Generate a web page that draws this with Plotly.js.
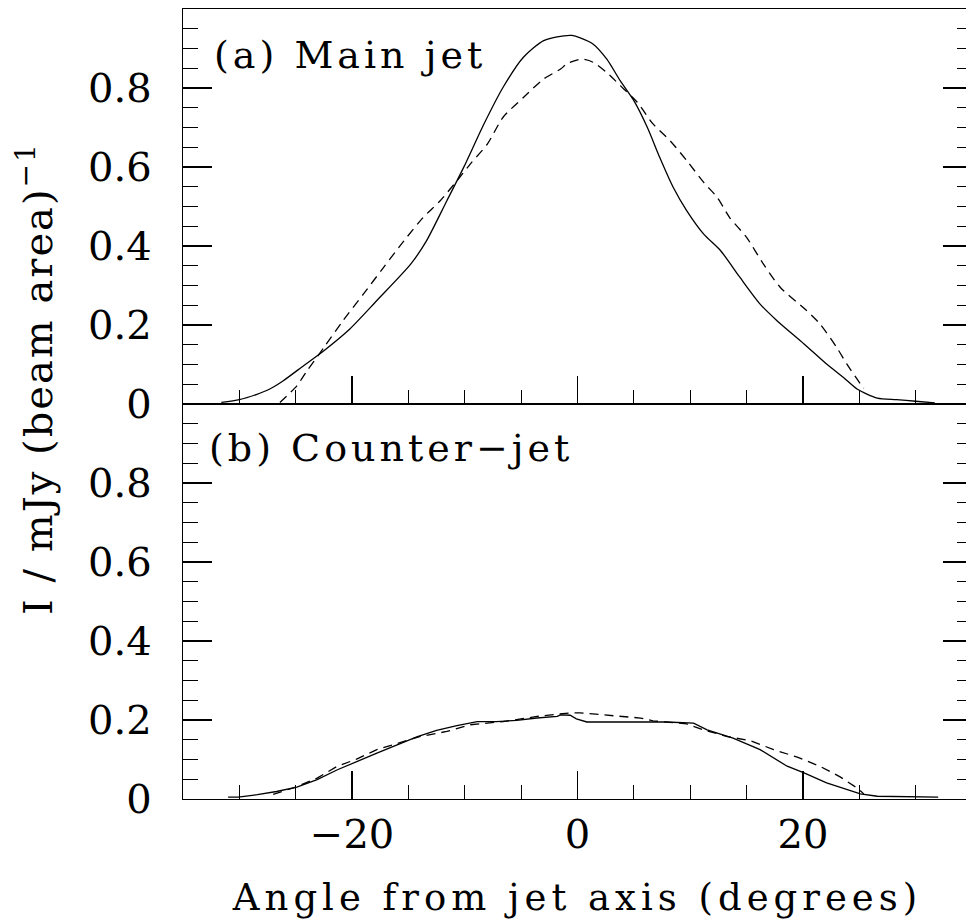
<!DOCTYPE html>
<html>
<head>
<meta charset="utf-8">
<script src="https://cdn.plot.ly/plotly-3.0.1.min.js"></script>
<style>
  html, body { margin: 0; padding: 0; overflow: hidden; background: #fff; }
  #chart { width: 980px; height: 922px; }
  .xtitle { letter-spacing: 5px; }
  .annotation[data-index="0"] text, .annotation[data-index="1"] text { letter-spacing: 4px; }
  .annotation[data-index="2"] text { letter-spacing: 2px; }
</style>
</head>
<body>
<div id="chart"></div>
<script>
// (a) Main jet — solid curve
const mainSolidX = [-31.6,-30.0,-28.5,-27.3,-26.1,-24.3,-22.5,-20.2,-17.8,-14.8,-13.4,-11.6,-10.1,-8.3,-6.6,-4.8,-3.0,-1.2,-0.5,0.24,1.4,2.6,3.8,5.0,6.2,7.3,8.5,9.7,11.2,12.7,14.4,16.2,17.7,20.1,22.1,23.6,24.8,26.6,28.3,30.0,31.7];
const mainSolidY = [0.004,0.011,0.024,0.038,0.059,0.097,0.135,0.19,0.262,0.354,0.413,0.514,0.599,0.709,0.802,0.878,0.92,0.932,0.933,0.927,0.911,0.873,0.818,0.768,0.700,0.624,0.548,0.489,0.430,0.388,0.321,0.253,0.211,0.152,0.101,0.067,0.038,0.015,0.011,0.007,0.003];
// (a) Main jet — dashed curve
const mainDashX = [-26.4,-24.9,-24.0,-22.5,-20.8,-19.0,-17.2,-15.4,-13.7,-12.2,-10.7,-9.5,-8.0,-6.6,-4.8,-3.0,-1.5,-0.9,0.39,1.4,2.6,3.8,5.3,6.7,8.2,9.7,11.2,12.4,13.5,15.0,16.5,18.0,20.2,21.5,23.0,23.9,25.1,25.4];
const mainDashY = [0.004,0.046,0.084,0.143,0.211,0.278,0.346,0.413,0.472,0.514,0.565,0.608,0.658,0.726,0.776,0.823,0.848,0.862,0.873,0.865,0.839,0.806,0.764,0.709,0.667,0.616,0.561,0.523,0.472,0.422,0.354,0.295,0.240,0.203,0.143,0.101,0.051,0.040];
// (b) Counter-jet — solid curve
const counterSolidX = [-31.0,-30.1,-28.4,-26.7,-24.9,-23.1,-21.3,-19.6,-17.8,-16.0,-14.2,-12.5,-10.7,-8.9,-7.2,-5.4,-3.6,-1.8,-1.5,-0.65,-0.1,0.83,5.6,7.9,10.3,11.5,13.8,16.2,18.6,20.1,22.1,23.9,25.1,26.6,32.0];
const counterSolidY = [0.005,0.005,0.011,0.019,0.030,0.049,0.074,0.095,0.116,0.137,0.158,0.174,0.186,0.196,0.196,0.199,0.205,0.209,0.213,0.212,0.203,0.195,0.195,0.195,0.192,0.175,0.154,0.125,0.083,0.066,0.041,0.024,0.013,0.007,0.005];
// (b) Counter-jet — dashed curve
const counterDashX = [-27.0,-25.0,-23.1,-21.3,-19.6,-17.8,-14.0,-11.6,-9.5,-6.6,-3.6,-0.65,0.2,2.5,5.6,6.7,9.7,11.2,13.3,15.3,17.4,19.5,21.5,23.3,24.8,25.4];
const counterDashY = [0.012,0.030,0.053,0.083,0.101,0.125,0.158,0.171,0.188,0.196,0.209,0.218,0.218,0.212,0.205,0.198,0.19,0.175,0.158,0.148,0.125,0.106,0.083,0.056,0.028,0.013];

// Tick labels
const xTickVals = [-20, 0, 20];
const xTickText = ['\u221220', '0', '20'];
const yTickVals = [0, 0.2, 0.4, 0.6, 0.8];
const yTickText = ['0', '0.2', '0.4', '0.6', '0.8'];

const panelLabels = ['(a) Main jet', '(b) Counter\u2212jet'];
const xTitle = 'Angle from jet axis (degrees)';
const yTitle = 'I / mJy (beam area)<sup>\u22121</sup>';

const FONT = 'DejaVu Serif';
const smoothSolid = {color: 'black', width: 1.3, shape: 'spline', smoothing: 0.7};
const smoothDash = {color: 'black', width: 1.3, dash: '9px,6px', shape: 'spline', smoothing: 0.7};
const lineStyle = {color: 'black', width: 1.3};
const dashStyle = {color: 'black', width: 1.3, dash: '9px,6px'};

const traces = [
  {x: mainSolidX, y: mainSolidY, xaxis: 'x2', yaxis: 'y2', mode: 'lines', line: smoothSolid, hoverinfo: 'skip'},
  {x: mainDashX, y: mainDashY, xaxis: 'x2', yaxis: 'y2', mode: 'lines', line: smoothDash, hoverinfo: 'skip'},
  {x: counterSolidX, y: counterSolidY, xaxis: 'x', yaxis: 'y', mode: 'lines', line: lineStyle, hoverinfo: 'skip'},
  {x: counterDashX, y: counterDashY, xaxis: 'x', yaxis: 'y', mode: 'lines', line: dashStyle, hoverinfo: 'skip'}
];

const xCommon = {
  range: [-35, 35], showgrid: false, zeroline: false,
  showline: true, linecolor: 'black', linewidth: 1.3, mirror: true,
  ticks: 'inside', ticklen: 28, tickwidth: 1.2, tickcolor: 'black',
  tickmode: 'array', tickvals: xTickVals, ticktext: xTickText,
  minor: {ticks: 'inside', ticklen: 14, tickwidth: 1.2, tickcolor: 'black', tickmode: 'linear', tick0: 0, dtick: 5, showgrid: false},
  tickfont: {family: FONT, size: 40, color: 'black'}
};
const yCommon = {
  range: [0, 1], showgrid: false, zeroline: false,
  showline: true, linecolor: 'black', linewidth: 1.3, mirror: 'ticks',
  ticks: 'inside', ticklen: 29, tickwidth: 1.2, tickcolor: 'black',
  tickmode: 'array', tickvals: yTickVals, ticktext: yTickText,
  minor: {ticks: 'inside', ticklen: 15, tickwidth: 1.2, tickcolor: 'black', tickmode: 'linear', tick0: 0, dtick: 0.05, showgrid: false},
  tickfont: {family: FONT, size: 40, color: 'black'},
  ticklabelstandoff: 22
};

const layout = {
  width: 980, height: 922,
  margin: {l: 183, r: 8, t: 9, b: 123},
  paper_bgcolor: 'white', plot_bgcolor: 'white',
  showlegend: false,
  xaxis: Object.assign({}, xCommon, {anchor: 'y',
    title: {text: xTitle, font: {family: FONT, size: 37, color: 'black'}, standoff: 27}}),
  xaxis2: Object.assign({}, xCommon, {anchor: 'y2', matches: 'x', showticklabels: false}),
  yaxis: Object.assign({}, yCommon, {anchor: 'x', domain: [0, 0.5]}),
  yaxis2: Object.assign({}, yCommon, {anchor: 'x2', domain: [0.5, 1]}),
  annotations: [
    {text: panelLabels[0], xref: 'paper', yref: 'paper', x: 0.067, y: 0.9418, xanchor: 'left', yanchor: 'middle', showarrow: false, font: {family: FONT, size: 38, color: 'black'}},
    {text: panelLabels[1], xref: 'paper', yref: 'paper', x: 0.069, y: 0.444, xanchor: 'left', yanchor: 'middle', showarrow: false, font: {family: FONT, size: 38, color: 'black'}},
    {text: yTitle, xref: 'paper', yref: 'paper', x: -0.1876, y: 0.533, xanchor: 'center', yanchor: 'middle', textangle: -90, showarrow: false, font: {family: FONT, size: 40, color: 'black'}}
  ]
};

Plotly.newPlot('chart', traces, layout, {staticPlot: true, displayModeBar: false});
</script>
</body>
</html>
